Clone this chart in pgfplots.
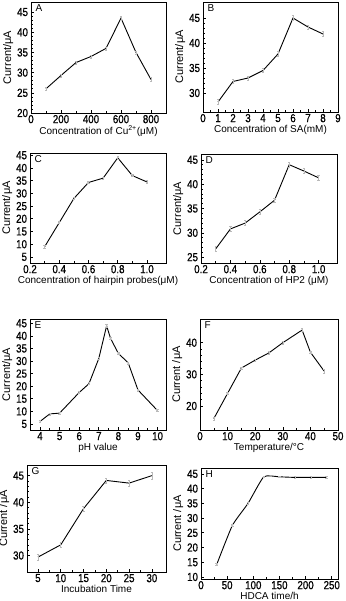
\documentclass[border=0pt]{standalone}
\usepackage{fontspec}
\setmainfont{Liberation Sans}
\newfontfamily\tickfont{Liberation Sans}[FakeStretch=0.84, FakeBold=0.8]
\usepackage{pgfplots}
\pgfplotsset{compat=1.18}

\pgfplotsset{
  panel/.style={
    scale only axis, anchor=north west,
    axis line style={line width=0.9pt},
    tick pos=left, tick align=inside,
    major tick length=3pt, minor tick length=1.6pt,
    every tick/.style={black, line width=0.6pt},
    tick label style={font=\tickfont\fontsize{11.6}{12}\selectfont},
    xticklabel style={yshift=1.5pt},
    yticklabel style={xshift=0.5pt},
    xlabel style={font=\fontsize{10}{11}\selectfont, yshift=4pt},
    ylabel style={font=\fontsize{11}{12}\selectfont, yshift=-3pt},
    /pgf/number format/assume math mode=true,
    minor y tick num=4,
  },
  dat/.style={black, line width=0.9pt, no markers,
    error bars/y dir=both, error bars/y explicit,
    error bars/error bar style={gray!55, line width=0.5pt},
    error bars/error mark options={rotate=90, mark size=1.2pt, gray!55, line width=0.5pt}},
}
\newcommand{\lett}[1]{\node[anchor=north west, font=\fontsize{10}{10}\selectfont, inner sep=1pt] at (rel axis cs:0.025,0.985) {#1};}

\begin{document}
\begin{tikzpicture}
\useasboundingbox (0pt,0pt) rectangle (345pt,-601pt);

% A
\begin{axis}[panel, at={(31pt,-2pt)}, width=135pt, height=111pt,
  xmin=0, xmax=900, ymin=20, ymax=47.5,
  xtick={0,200,...,800}, minor x tick num=1, ytick={20,25,...,45},
  xlabel={Concentration of Cu\textsuperscript{2+}(μM)}, ylabel={Current/μA}]
\addplot[dat] coordinates {(100,26) +- (0,0.4) (200,29.3) +- (0,0.4) (300,32.5) +- (0,0.4) (400,34) +- (0,0.4)
  (500,36) +- (0,0.4) (600,43.5) +- (0,0.5) (700,35) +- (0,0.4) (800,28.3) +- (0,0.5)};
\lett{A}
\end{axis}

% B
\begin{axis}[panel, at={(203pt,-2pt)}, width=135pt, height=110pt,
  xmin=0, xmax=9, ymin=26.2, ymax=48.2,
  xtick={0,1,...,9}, minor x tick num=1, ytick={30,35,40,45},
  xlabel={Concentration of SA(mM)}, ylabel={Current/μA}]
\addplot[dat] coordinates {(1,28.2) +- (0,0.5) (2,32.3) +- (0,0.4) (3,33) +- (0,0.4) (4,34.5) +- (0,0.4)
  (5,37.8) +- (0,0.5) (6,45) +- (0,0.5) (7,43.2) +- (0,0.4) (8,41.8) +- (0,0.5)};
\lett{B}
\end{axis}

% C
\begin{axis}[panel, at={(30pt,-153pt)}, width=136pt, height=110pt,
  xmin=0.2, xmax=1.13, ymin=2.6, ymax=45.9,
  xtick={0.2,0.4,...,1.0}, minor x tick num=1, ytick={5,10,...,45}, minor y tick num=0,
  xticklabel style={/pgf/number format/.cd, fixed, fixed zerofill, precision=1},
  xlabel={Concentration of hairpin probes(μM)}, ylabel={Current/μA}]
\addplot[dat] coordinates {(0.3,9) +- (0,0.4) (0.4,18.5) +- (0,0.4) (0.5,28) +- (0,0.4) (0.6,34.3) +- (0,0.4)
  (0.7,36) +- (0,0.4) (0.8,44) +- (0,0.5) (0.9,37) +- (0,0.4) (1.0,34.5) +- (0,0.5)};
\lett{C}
\end{axis}

% D
\begin{axis}[panel, at={(201pt,-154pt)}, width=136pt, height=109pt,
  xmin=0.2, xmax=1.125, ymin=23.8, ymax=46.2,
  xtick={0.2,0.4,...,1.0}, minor x tick num=1, ytick={25,30,...,45},
  xticklabel style={/pgf/number format/.cd, fixed, fixed zerofill, precision=1},
  xlabel={Concentration of HP2 (μM)}, ylabel={Current/μA}]
\addplot[dat] coordinates {(0.3,26.7) +- (0,0.5) (0.4,30.8) +- (0,0.5) (0.5,32) +- (0,0.5) (0.6,34.3) +- (0,0.5)
  (0.7,36.7) +- (0,0.5) (0.8,44) +- (0,0.5) (0.9,42.7) +- (0,0.5) (1.0,41.3) +- (0,0.5)};
\lett{D}
\end{axis}

% E
\begin{axis}[panel, at={(30pt,-319pt)}, width=136pt, height=111pt,
  xmin=3.49, xmax=10.43, ymin=2.6, ymax=46.7,
  xtick={4,5,...,10}, minor x tick num=1, ytick={5,10,...,45}, minor y tick num=0,
  xlabel={pH value}, ylabel={Current/μA}]
\addplot[dat] coordinates {(4,6) +- (0,0.4) (4.5,9) +- (0,0.4) (5,9.3) +- (0,0.4) (6,17.5) +- (0,0.4)
  (6.5,21) +- (0,0.4) (7,31) +- (0,0.4) (7.4,44) +- (0,0.5) (7.6,39) +- (0,0.4) (8,33) +- (0,0.4)
  (8.5,29.3) +- (0,0.4) (9,18.5) +- (0,0.4) (10,10.3) +- (0,0.4)};
\lett{E}
\end{axis}

% F
\begin{axis}[panel, at={(200pt,-319pt)}, width=138pt, height=111pt,
  xmin=0, xmax=50, ymin=12.4, ymax=47.5,
  xtick={0,10,...,50}, minor x tick num=1, ytick={20,30,40},
  xlabel={Temperature/°C}, ylabel={Current /μA}]
\addplot[dat] coordinates {(5,16) +- (0,0.4) (10,24) +- (0,0.4) (15,32) +- (0,0.4) (20,34.5) +- (0,0.4)
  (25,36.8) +- (0,0.4) (30,40) +- (0,0.4) (37,44) +- (0,0.5) (40,37) +- (0,0.4) (45,31) +- (0,0.5)};
\lett{F}
\end{axis}

% G
\begin{axis}[panel, at={(27pt,-465pt)}, width=139pt, height=107pt,
  xmin=2.6, xmax=33.1, ymin=26.9, ymax=47,
  xtick={5,10,...,30}, minor x tick num=1, ytick={30,35,40,45},
  xlabel={Incubation Time}, ylabel={Current /μA}]
\addplot[dat] coordinates {(5,29.7) +- (0,0.6) (10,32) +- (0,0.5) (15,38.8) +- (0,0.5) (20,44.1) +- (0,0.5)
  (25,43.6) +- (0,0.6) (30,45) +- (0,0.6)};
\lett{G}
\end{axis}

% H
\begin{axis}[panel, at={(201pt,-468pt)}, width=137pt, height=111pt,
  xmin=0, xmax=262, ymin=9.3, ymax=47,
  xtick={0,50,...,250}, minor x tick num=1, ytick={10,15,...,45}, minor y tick num=0,
  xlabel={HDCA time/h}, ylabel={Current /μA}]
\addplot[dat, smooth, tension=0.3] coordinates {(30,14.2) +- (0,0.3) (60,27.5) +- (0,0.4) (90,35) +- (0,0.3) (120,44) +- (0,0.3)
  (150,44) +- (0,0.3) (180,43.8) +- (0,0.3) (210,43.8) +- (0,0.3) (240,43.8) +- (0,0.3)};
\lett{H}
\end{axis}
\end{tikzpicture}
\end{document}
